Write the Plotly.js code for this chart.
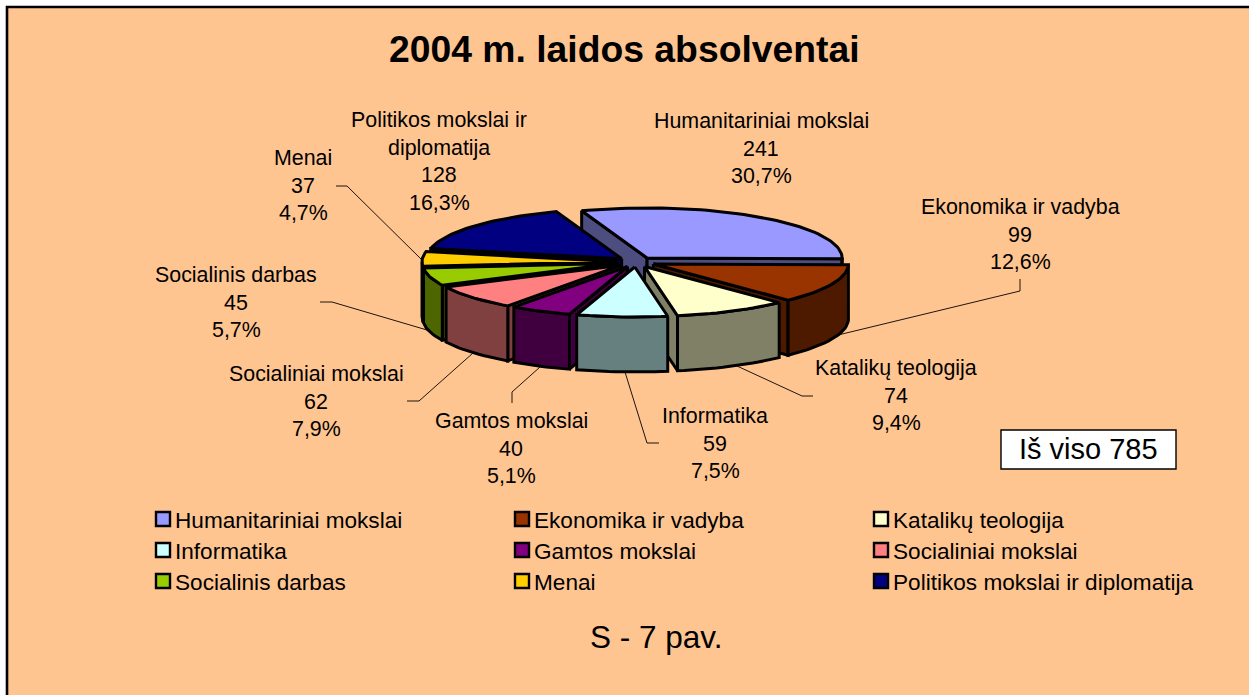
<!DOCTYPE html>
<html><head><meta charset="utf-8">
<script src="https://cdn.plot.ly/plotly-3.0.1.min.js"></script>
<style>html,body{margin:0;padding:0;background:#fff;overflow:hidden}</style>
</head><body><div id="chart" style="width:1249px;height:695px"></div>
<script>
// ---- data ----
const categories = ["Humanitariniai mokslai","Ekonomika ir vadyba","Katalikų teologija","Informatika","Gamtos mokslai","Socialiniai mokslai","Socialinis darbas","Menai","Politikos mokslai ir diplomatija"];
const values = [241,99,74,59,40,62,45,37,128];
const topColors = ["#9999FF","#993300","#FFFFCC","#CCFFFF","#800080","#FF8080","#99CC00","#FFCC00","#000080"];
const sideColors = ["#4D4D80","#4D1A00","#808066","#668080","#400040","#804040","#4D6600","#806600","#000040"];
const labelNameLines = [["Humanitariniai mokslai"],["Ekonomika ir vadyba"],["Katalikų teologija"],["Informatika"],["Gamtos mokslai"],["Socialiniai mokslai"],["Socialinis darbas"],["Menai"],["Politikos mokslai ir","diplomatija"]];
const chartTitle = "2004 m. laidos absolventai";
const totalLabel = "Iš viso 785";
const captionLabel = "S - 7 pav.";

// ---- layout constants (pixel-like axis coordinates) ----
const W=1249,H=695;
const cx=636, cy=262, rx=195, ry=50, ex=19, ey=5, depth=55, startAngle=-19.6;
const labelCenters=[[761,121],[1020,207],[896,368],[715,416],[511,421],[316,374],[236,275],[303,158],[439,120]];
const labelLineGap=27.5;
const leaders=[null,[[1020,279],[1020,291],[838,335]],[[737,366],[802,396],[813,396]],[[625,372],[647,443],[659,443]],[[540,367],[512,392],[512,403]],[[473,353],[419,401],[407,401]],[[427,330],[332,302],[320,302]],[[421,259],[347,186],[336,186]],null];
const legendX=[163,522,881], legendY=[519,550,581];

const total=values.reduce((a,b)=>a+b,0);
const rad=d=>d*Math.PI/180;
const traces=[], annotations=[];
const edge={color:"#000",width:3};
function poly(pts,color,name){
  traces.push({type:"scatter",mode:"lines",x:pts.map(p=>p[0]),y:pts.map(p=>p[1]),fill:"toself",fillcolor:color,line:edge,hoverinfo:"skip",showlegend:false,name});
}
// slices computed from values
let acc=startAngle;
const slices=values.map((v,i)=>{const a0=acc,a1=acc+v/total*360;acc=a1;return {i,a0,a1,mid:(a0+a1)/2};});
slices.sort((s,t)=>(-Math.cos(rad(s.mid)))-(-Math.cos(rad(t.mid))));
slices.forEach(s=>{
  const ax=cx+ex*Math.sin(rad(s.mid)), ay=cy-ey*Math.cos(rad(s.mid));
  const pt=(d,dz)=>[ax+rx*Math.sin(rad(d)), ay-ry*Math.cos(rad(d))+(dz||0)];
  const arc=(a,b,dz)=>{const n=Math.max(2,Math.ceil(Math.abs(b-a)/2)),r=[];for(let k=0;k<=n;k++)r.push(pt(a+(b-a)*k/n,dz));return r;};
  const name=categories[s.i];
  const wall=d=>{const p=pt(d);poly([[ax,ay],p,[p[0],p[1]+depth],[ax,ay+depth],[ax,ay]],sideColors[s.i],name);};
  if(Math.sin(rad(s.a0))<0) wall(s.a0);
  if(Math.sin(rad(s.a1))>0) wall(s.a1);
  const f0=Math.max(s.a0,90), f1=Math.min(s.a1,270);
  if(f1>f0){poly(arc(f0,f1,0).concat(arc(f1,f0,depth)).concat([pt(f0)]),sideColors[s.i],name);}
  poly([[ax,ay]].concat(arc(s.a0,s.a1,0)).concat([[ax,ay]]),topColors[s.i],name);
});
// leader lines
leaders.forEach((l,i)=>{ if(!l) return;
  traces.push({type:"scatter",mode:"lines",x:l.map(p=>p[0]),y:l.map(p=>p[1]),line:{color:"#000",width:0.9},hoverinfo:"skip",showlegend:false});
});
// data labels
const fnt="Liberation Sans, Arial, sans-serif";
categories.forEach((c,i)=>{
  const pct=(values[i]/total*100).toFixed(1).replace(".",",")+"%";
  labelNameLines[i].concat([String(values[i]),pct]).forEach((t,k)=>{
    annotations.push({xref:"x",yref:"y",x:labelCenters[i][0],y:labelCenters[i][1]+k*labelLineGap,text:t,showarrow:false,xanchor:"center",yanchor:"middle",font:{family:fnt,size:21.4,color:"#000"}});
  });
});
// legend
categories.forEach((c,i)=>{
  const lx=legendX[i%3], ly=legendY[Math.floor(i/3)];
  traces.push({type:"scatter",mode:"markers",x:[lx],y:[ly],marker:{symbol:"square",size:14,color:topColors[i],line:{color:"#000",width:2.4}},hoverinfo:"skip",showlegend:false,name:c});
  annotations.push({xref:"x",yref:"y",x:lx+10,y:ly+1,text:c,showarrow:false,xanchor:"left",yanchor:"middle",font:{family:fnt,size:22.6,color:"#000"}});
});
annotations.push({xref:"x",yref:"y",x:624,y:49,text:"<b>"+chartTitle+"</b>",showarrow:false,font:{family:fnt,size:37.3,color:"#000"}});
annotations.push({xref:"x",yref:"y",x:1088,y:449,text:totalLabel,showarrow:false,font:{family:fnt,size:29,color:"#000"}});
annotations.push({xref:"x",yref:"y",x:656,y:637,text:captionLabel,showarrow:false,font:{family:fnt,size:31.5,color:"#000"}});
const layout={
  width:W,height:H,margin:{l:0,r:0,t:0,b:0},paper_bgcolor:"#fff",plot_bgcolor:"#fff",showlegend:false,
  xaxis:{range:[0,W],visible:false,fixedrange:true},
  yaxis:{range:[H,0],visible:false,fixedrange:true},
  shapes:[
    {type:"rect",xref:"x",yref:"y",x0:7,y0:7,x1:W+20,y1:H+20,fillcolor:"#FFC591",line:{color:"#000",width:2.6},layer:"below"},
    {type:"rect",xref:"x",yref:"y",x0:1001,y0:430,x1:1176,y1:469,fillcolor:"#fff",line:{color:"#000",width:1.4},layer:"below"}
  ],
  annotations
};
Plotly.newPlot("chart",traces,layout,{displayModeBar:false,staticPlot:true});
</script></body></html>
